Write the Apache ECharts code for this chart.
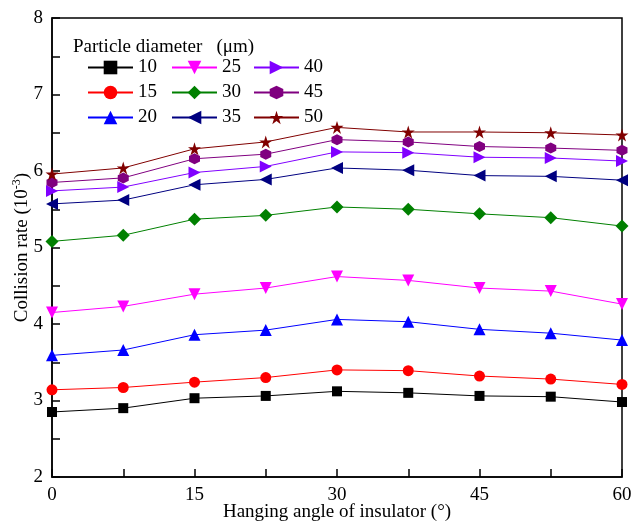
<!DOCTYPE html>
<html><head><meta charset="utf-8">
<script src="https://cdn.jsdelivr.net/npm/echarts@6/dist/echarts.min.js"></script>
<style>html,body{margin:0;padding:0;background:#fff}#c{width:634px;height:523px}</style>
</head><body><div id="c"></div>
<script>
const angles = [0, 7.5, 15, 22.5, 30, 37.5, 45, 52.5, 60];
const d10 = [2.85, 2.90, 3.03, 3.06, 3.12, 3.10, 3.06, 3.05, 2.98];
const d15 = [3.14, 3.17, 3.24, 3.30, 3.40, 3.39, 3.32, 3.28, 3.21];
const d20 = [3.59, 3.66, 3.86, 3.92, 4.06, 4.03, 3.93, 3.88, 3.79];
const d25 = [4.15, 4.23, 4.39, 4.47, 4.62, 4.57, 4.47, 4.43, 4.26];
const d30 = [5.08, 5.16, 5.37, 5.42, 5.53, 5.50, 5.44, 5.39, 5.28];
const d35 = [5.57, 5.62, 5.82, 5.89, 6.04, 6.01, 5.94, 5.93, 5.88];
const d40 = [5.74, 5.79, 5.98, 6.06, 6.25, 6.24, 6.18, 6.17, 6.13];
const d45 = [5.85, 5.91, 6.16, 6.22, 6.41, 6.38, 6.32, 6.30, 6.27];
const d50 = [5.96, 6.04, 6.29, 6.38, 6.57, 6.51, 6.51, 6.50, 6.47];
const seriesNames = ['10','15','20','25','30','35','40','45','50'];
const seriesData = [d10,d15,d20,d25,d30,d35,d40,d45,d50];
const colors = ['#000000','#ff0000','#0000ff','#ff00ff','#008000','#000080','#8000ff','#800080','#800000'];
const hex = 'path://M0,-1 L0.866,-0.5 L0.866,0.5 L0,1 L-0.866,0.5 L-0.866,-0.5 Z';
const star = 'path://M0,-1 L0.2245,-0.309 L0.9511,-0.309 L0.3633,0.118 L0.5878,0.809 L0,0.382 L-0.5878,0.809 L-0.3633,0.118 L-0.9511,-0.309 L-0.2245,-0.309 Z';
const symbols = ['rect','circle','triangle','triangle','diamond','triangle','triangle',hex,star];
const rotates = [0,0,0,180,0,90,-90,0,0];
const sizes = [10,11,12,12,13,12,12,11,13];
const font = 'Liberation Serif';

const chart = echarts.init(document.getElementById('c'));
const series = seriesNames.map((n,i)=>({
  name:n, type:'line', data: angles.map((a,j)=>[a, seriesData[i][j]]),
  symbol: symbols[i], symbolRotate: rotates[i], symbolSize: sizes[i],
  itemStyle:{color:colors[i]}, lineStyle:{color:colors[i], width:1},
  showSymbol:true, animation:false, z: 2
}));
const legendBase = {orient:'vertical', top:58, itemWidth:45, itemHeight:17, itemGap:6,
  textStyle:{fontFamily:font, fontSize:19, color:'#000'}, padding:0};
chart.setOption({
  animation:false,
  textStyle:{fontFamily:font},
  grid:{left:52, right:12, top:18, bottom:46, show:true, borderColor:'#000', borderWidth:1.5,
    outerBoundsMode:'none', containLabel:false},
  title:{text:'Particle diameter   (\u03bcm)', left:68, top:33,
    textStyle:{fontFamily:font, fontSize:19, fontWeight:'normal', color:'#000'}},
  legend:[
    Object.assign({left:87, data:['10','15','20']}, legendBase),
    Object.assign({left:171, data:['25','30','35']}, legendBase),
    Object.assign({left:253, data:['40','45','50']}, legendBase)
  ],
  xAxis:{type:'value', min:0, max:60, interval:15,
    name:'Hanging angle of insulator (\u00b0)', nameLocation:'middle', nameGap:26, nameMoveOverlap:false,
    nameTextStyle:{fontFamily:font, fontSize:19, color:'#000'},
    axisLine:{lineStyle:{color:'#000', width:1.5}},
    axisTick:{inside:true, length:8, lineStyle:{color:'#000', width:1.5}},
    minorTick:{show:true, splitNumber:2, length:8, lineStyle:{color:'#000', width:1.5}},
    splitLine:{show:false},
    axisLabel:{fontFamily:font, fontSize:19, color:'#000', margin:9}},
  yAxis:{type:'value', min:2, max:8, interval:1,
    name:'Collision rate (10{sup|-3})', nameLocation:'middle', nameGap:19, nameMoveOverlap:false,
    nameTextStyle:{fontFamily:font, fontSize:19, color:'#000',
      rich:{sup:{fontFamily:font, fontSize:12, verticalAlign:'bottom', padding:[0,0,10,0]}}},
    axisLine:{lineStyle:{color:'#000', width:1.5}},
    axisTick:{inside:true, length:8, lineStyle:{color:'#000', width:1.5}},
    minorTick:{show:true, splitNumber:2, length:8, lineStyle:{color:'#000', width:1.5}},
    splitLine:{show:false},
    axisLabel:{fontFamily:font, fontSize:19, color:'#000', margin:9}},
  series: series
});
</script></body></html>
